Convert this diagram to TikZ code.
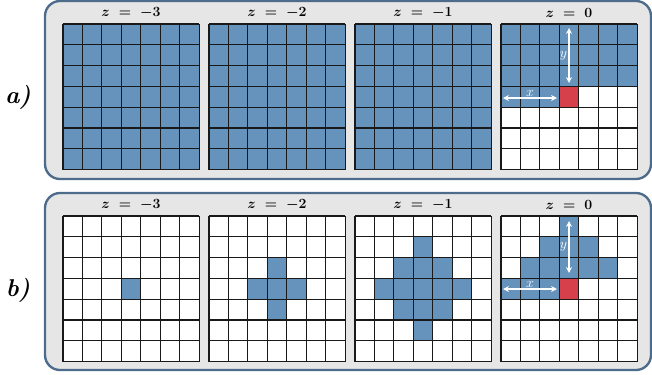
\documentclass[tikz,border=0pt]{standalone}
\usepackage{amsmath}
\usepackage{xcolor}
\usetikzlibrary{arrows.meta}

\definecolor{cellblue}{HTML}{6693BC}
\definecolor{cellred}{HTML}{D5404A}
\definecolor{panelgray}{HTML}{E6E6E6}
\definecolor{paneledge}{HTML}{4D6B8A}

\newcommand{\cellw}{19.45}
\newcommand{\cellh}{20.8}

% one cell of a grid: x0, y0, column, row, colour
\newcommand{\fillcell}[5]{%
  \fill[#5] ({#1+(#3-1)*\cellw},{#2+(#4-1)*\cellh}) rectangle ++(\cellw,\cellh);}

% 7x7 lines of a grid: x0, y0
\newcommand{\gridlines}[2]{%
  \foreach \i in {0,...,7} {
    \draw[gridline] ({#1+\i*\cellw},#2) -- ++(0,{7*\cellh});
    \draw[gridline] (#1,{#2+\i*\cellh}) -- ++({7*\cellw},0);
  }}

\begin{document}
\begin{tikzpicture}[
    x=0.3mm, y=-0.3mm,
    panel/.style={
      draw=paneledge,
      line width=2pt,
      fill=panelgray,
      rounded corners=4.5mm
    },
    gridline/.style={draw=black!90, line width=0.9pt},
    title/.style={font=\large\boldmath},
    tag/.style={font=\huge\bfseries\itshape},
    dimarrow/.style={
      white,
      line width=1.3pt,
      {Stealth[length=5pt,width=5pt]}-{Stealth[length=5pt,width=5pt]}
    },
    dimlabel/.style={text=white, font=\large\itshape}
  ]
  \useasboundingbox (0,0) rectangle (652,374);

  % Panels
  \draw[panel] (45,1) rectangle (651,179);
  \draw[panel] (45,193) rectangle (651,370);

  \node[tag] (taga) at (18,97) {a)};
  \node[tag] (tagb) at (18,290) {b)};

  % Titles
  \foreach \z [count=\k from 0] in {-3,-2,-1,0} {
    \node[title] (ta\k) at ({131+146*\k},13) {$z\;=\;\z$};
    \node[title] (tb\k) at ({131+146*\k},205) {$z\;=\;\z$};
  }

  % White grid backgrounds
  \foreach \k in {0,...,3} {
    \fill[white] ({63+146*\k},24) rectangle ++({7*\cellw},{7*\cellh});
    \fill[white] ({63+146*\k},216) rectangle ++({7*\cellw},{7*\cellh});
  }

  % Panel a cells
  \foreach \k in {0,1,2}
    \fill[cellblue] ({63+146*\k},24) rectangle ++({7*\cellw},{7*\cellh});
  \fill[cellblue] (501,24) rectangle ++({7*\cellw},{3*\cellh});
  \fill[cellblue] (501,{24+3*\cellh}) rectangle ++({3*\cellw},\cellh);
  \fillcell{501}{24}{4}{4}{cellred}

  % Panel b cells
  \fillcell{63}{216}{4}{4}{cellblue}
  \foreach \c/\r in {4/3,3/4,4/4,5/4,4/5}
    \fillcell{209}{216}{\c}{\r}{cellblue};
  \foreach \c/\r in {4/2,3/3,4/3,5/3,2/4,3/4,4/4,5/4,6/4,3/5,4/5,5/5,4/6}
    \fillcell{355}{216}{\c}{\r}{cellblue};
  \foreach \c/\r in {4/1,3/2,4/2,5/2,2/3,3/3,4/3,5/3,6/3,1/4,2/4,3/4}
    \fillcell{501}{216}{\c}{\r}{cellblue};
  \fillcell{501}{216}{4}{4}{cellred}

  % Grid lines
  \foreach \k in {0,...,3} {
    \gridlines{63+146*\k}{24}
    \gridlines{63+146*\k}{216}
  }

  % Offsets x and y
  \coordinate (yatop) at (569,28);
  \coordinate (yabot) at (569,83);
  \coordinate (xaleft) at (503,98);
  \coordinate (xaright) at (557,98);
  \coordinate (ybtop) at (569,221);
  \coordinate (ybbot) at (569,273);
  \coordinate (xbleft) at (503,289);
  \coordinate (xbright) at (557,289);

  \draw[dimarrow] (yatop) -- (yabot) node[dimlabel, midway, left, inner sep=1pt] {$y$};
  \draw[dimarrow] (xaleft) -- (xaright) node[dimlabel, midway, above, inner sep=0.5pt] {$x$};
  \draw[dimarrow] (ybtop) -- (ybbot) node[dimlabel, midway, left, inner sep=1pt] {$y$};
  \draw[dimarrow] (xbleft) -- (xbright) node[dimlabel, midway, above, inner sep=0.5pt] {$x$};
\end{tikzpicture}
\end{document}
